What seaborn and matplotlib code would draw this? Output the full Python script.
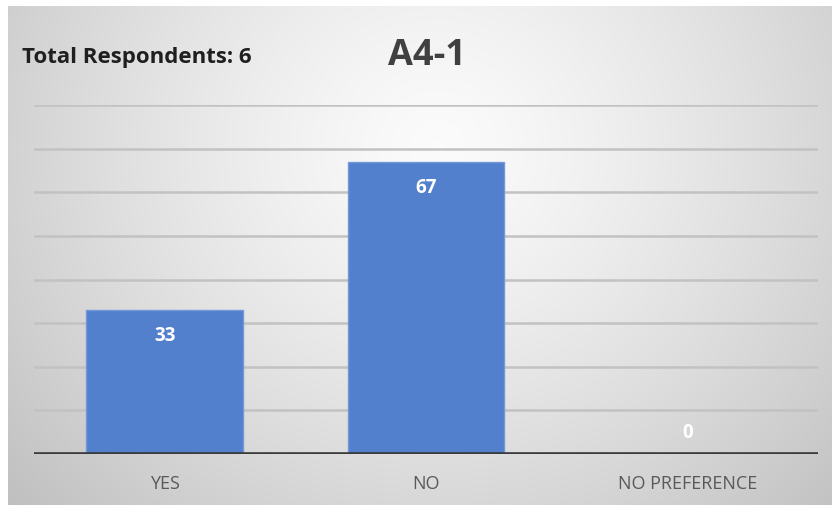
import numpy as np
import pandas as pd
import matplotlib
matplotlib.use("Agg")
import matplotlib.pyplot as plt
import seaborn as sns

categories = ["YES", "NO", "NO PREFERENCE"]
percentages = [33, 67, 0]
title_text = "A4-1"
respondents_text = "Total Respondents: 6"
grid_values = [10, 20, 30, 40, 50, 60, 70, 80]

sns.set_style("white")
plt.rcParams["font.family"] = ["Open Sans", "DejaVu Sans"]

W, H = 832, 506
fig = plt.figure(figsize=(W / 100, H / 100), dpi=100)
fig.patch.set_facecolor("white")

# soft radial backdrop for the chart frame
bg = fig.add_axes([8 / W, 0, 1 - 8 / W, (H - 7) / H])
bg.set_axis_off()
ny, nx = 250, 410
yy, xx = np.mgrid[0:ny, 0:nx]
cx, cy = nx * 0.52, ny * 0.28
d = np.sqrt(((xx - cx) / (nx * 0.62)) ** 2 + ((yy - cy) / (ny * 0.95)) ** 2)
shade = 0.985 - 0.20 * np.clip(d, 0, 1.2) ** 1.3
bg.imshow(np.dstack([shade, shade, shade]), aspect="auto",
          extent=[0, 1, 0, 1], origin="upper", interpolation="bilinear")
bg.set_xlim(0, 1)
bg.set_ylim(0, 1)

ax = fig.add_axes([34 / W, (H - 455) / H, (818 - 34) / W, (455 - 106) / H])
ax.patch.set_alpha(0)

df = pd.DataFrame({"category": categories, "pct": percentages})
sns.barplot(data=df, x="category", y="pct", color="#5280CC", width=0.6,
            edgecolor="#7499da", linewidth=1.0, saturation=1, ax=ax, zorder=3)

ax.set_xlim(-0.5, len(categories) - 0.5)
ax.set_ylim(0, 80)
for g in grid_values:
    ax.axhline(g, color="#c2c2c2", linewidth=1.8, zorder=1)
ax.axhline(0, color="#3a3a3a", linewidth=2.6, zorder=4)

for i, v in enumerate(percentages):
    off = -25 if v > 0 else 22
    ax.annotate(f"{v}", xy=(i, v), xytext=(0, off * 0.72), textcoords="offset points",
                ha="center", va="center", color="white", fontsize=13.5,
                fontweight="bold", zorder=5)

ax.set_xlabel("")
ax.set_ylabel("")
ax.set_yticks([])
ax.tick_params(axis="x", length=0, pad=14.5, labelsize=13, labelcolor="#595959")
for s in ax.spines.values():
    s.set_visible(False)

fig.text(22 / W, 1 - 58 / H, respondents_text, ha="left", va="center",
         fontsize=16, fontweight="bold", color="#1f1f1f")
fig.text(427 / W, 1 - 56 / H, title_text, ha="center", va="center",
         fontsize=26, fontweight="bold", color="#404040")

fig.savefig("out.png", dpi=100)
